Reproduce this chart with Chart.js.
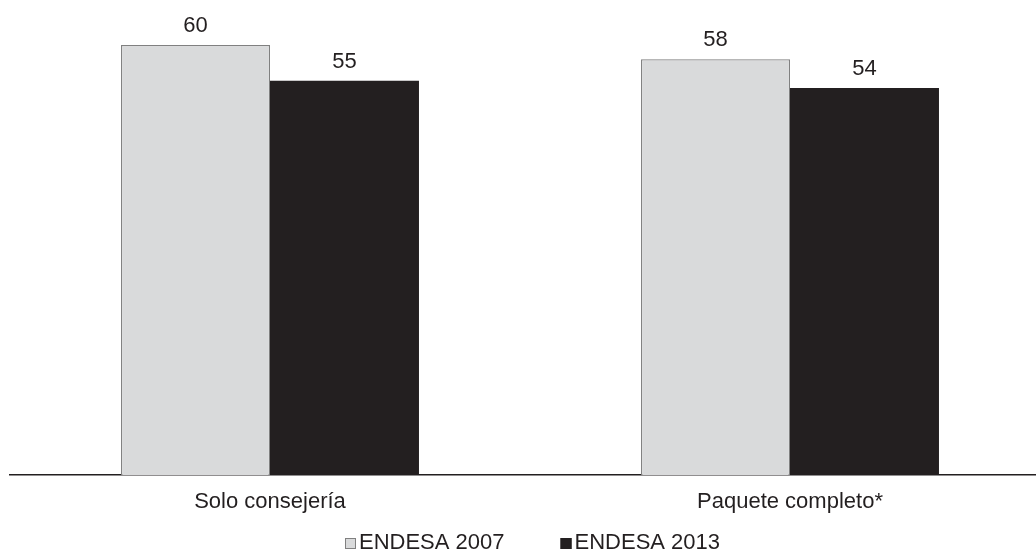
<!DOCTYPE html>
<html>
<head>
<meta charset="utf-8">
<script src="https://cdn.jsdelivr.net/npm/chart.js@4.4.1/dist/chart.umd.min.js"></script>
<style>
html,body{margin:0;padding:0;background:#fff;overflow:hidden;width:1036px;height:554px;}
canvas{display:block;}
</style>
</head>
<body>
<canvas id="c" width="1050" height="554"></canvas>
<script>
const categories = ["Solo consejería", "Paquete completo*"];
const seriesNames = ["ENDESA 2007", "ENDESA 2013"];
const endesa2007 = [60, 58];
const endesa2013 = [55, 54];

const FONT = "'Liberation Sans', Arial, sans-serif";
const FS = 22;

const valueLabels = {
  id: 'valueLabels',
  afterDatasetsDraw(chart) {
    const ctx = chart.ctx;
    ctx.save();
    ctx.font = FS + 'px ' + FONT;
    ctx.fillStyle = '#231f20';
    ctx.textAlign = 'center';
    ctx.textBaseline = 'middle';
    chart.data.datasets.forEach((ds, i) => {
      chart.getDatasetMeta(i).data.forEach((bar, j) => {
        ctx.fillText(String(ds.data[j]), bar.x, bar.y - 19);
      });
    });
    ctx.restore();
  }
};

const customLegend = {
  id: 'customLegend',
  afterDraw(chart) {
    const ctx = chart.ctx;
    ctx.save();
    ctx.font = FS + 'px ' + FONT;
    ctx.textBaseline = 'middle';
    ctx.textAlign = 'left';
    const box = 11, gapText = 3, gapItem = 56, cy = 543, cx = 533;
    const items = chart.data.datasets.map(ds => ({
      label: ds.label, fill: ds.backgroundColor, stroke: ds.borderColor,
      w: box + gapText + ctx.measureText(ds.label).width
    }));
    const total = items.reduce((s, it) => s + it.w, 0) + gapItem * (items.length - 1);
    let x = Math.round(cx - total / 2);
    items.forEach(it => {
      ctx.fillStyle = it.fill;
      ctx.fillRect(x, Math.round(cy - box / 2), box, box);
      ctx.strokeStyle = it.stroke;
      ctx.lineWidth = 1;
      ctx.strokeRect(x + 0.5, Math.round(cy - box / 2) + 0.5, box - 1, box - 1);
      ctx.fillStyle = '#231f20';
      ctx.fillText(it.label, x + box + gapText, cy);
      x += it.w + gapItem;
    });
    ctx.restore();
  }
};

new Chart(document.getElementById('c'), {
  type: 'bar',
  data: {
    labels: categories,
    datasets: [
      { label: seriesNames[0], data: endesa2007, backgroundColor: '#d9dadb', borderColor: '#808080', borderWidth: 1.2 },
      { label: seriesNames[1], data: endesa2013, backgroundColor: '#231f20', borderColor: '#231f20', borderWidth: 0 }
    ]
  },
  options: {
    responsive: false,
    animation: false,
    devicePixelRatio: 1,
    categoryPercentage: 0.573,
    barPercentage: 1,
    layout: { padding: { left: 10, right: 0, top: 45, bottom: 24.6 } },
    plugins: { legend: { display: false }, tooltip: { enabled: false } },
    scales: {
      x: {
        grid: { display: false, drawTicks: false },
        border: { display: true, color: '#231f20', width: 1.5 },
        ticks: { color: '#231f20', padding: 14, font: { family: FONT, size: FS, lineHeight: 1.2 } }
      },
      y: {
        display: false,
        min: 0,
        max: 60
      }
    }
  },
  plugins: [valueLabels, customLegend]
});
</script>
</body>
</html>
